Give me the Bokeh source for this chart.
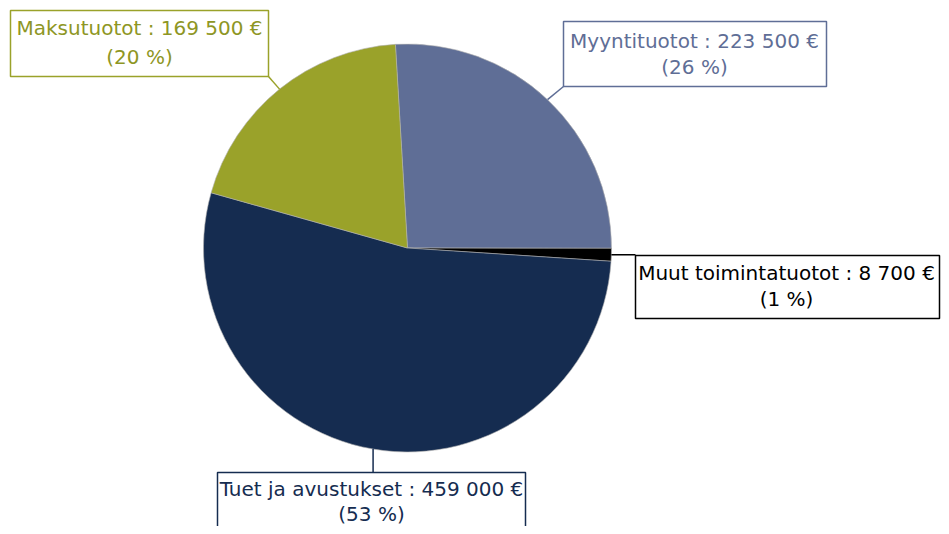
import math
from bokeh.plotting import figure
from bokeh.models import Range1d
from bokeh.core.properties import value
from bokeh.embed import file_html
from bokeh.resources import INLINE

# ---- data ----
categories = ["Myyntituotot", "Muut toimintatuotot", "Tuet ja avustukset", "Maksutuotot"]
amounts = [223500, 8700, 459000, 169500]

# ---- styles ----
colors = ["#5F6E96", "#000000", "#152C50", "#9AA22A"]
text_colors = ["#5F6E96", "#000000", "#152C50", "#8E9624"]

# ---- layout (image pixel coordinates, y downward) ----
W, H = 941, 526
cx, cy, R = 407, 247.5, 204
start_offset_deg = -3.4  # clockwise from 12 o'clock
box_left = [563, 635, 217, 10]
box_right = [826, 939, 525, 268]
box_top = [21, 255, 472, 10]
box_bottom = [86, 318, 545, 76]
text_x = [694, 786, 371, 139]
text_y1 = [40, 272, 488, 27]
text_y2 = [66, 298, 513, 56]

TOP = 534


def Y(py):
    return TOP - py


p = figure(width=W, height=H, output_backend="svg", toolbar_location=None,
           x_range=Range1d(0, W), y_range=Range1d(TOP - H, TOP),
           min_border=0, outline_line_color=None)
p.axis.visible = False
p.grid.visible = False
p.background_fill_color = "white"
p.border_fill_color = "white"

total = sum(amounts)
cum = start_offset_deg
starts, ends, mids = [], [], []
for a in amounts:
    span = a / total * 360.0
    s_cw, e_cw = cum, cum + span
    cum = e_cw
    starts.append(math.radians(90 - e_cw))
    ends.append(math.radians(90 - s_cw))
    mids.append((s_cw + e_cw) / 2)

p.wedge(x=[cx] * 4, y=[Y(cy)] * 4, radius=R, start_angle=starts, end_angle=ends,
        direction="anticlock", fill_color=colors, line_color="#B0B0B0", line_width=0.6)

# leader lines
anchors = [(box_left[0], box_bottom[0]), None, None, (box_right[3], box_bottom[3])]
for i, m in enumerate(mids):
    sx = cx + R * math.sin(math.radians(m))
    sy = cy - R * math.cos(math.radians(m))
    if i == 1:
        ex, ey = box_left[1], sy
    elif i == 2:
        ex, ey = sx, box_top[2]
    else:
        ex, ey = anchors[i]
    p.line([sx, ex], [Y(sy), Y(ey)], line_color=colors[i], line_width=1.5)

# label boxes
p.quad(left=box_left, right=box_right, top=[Y(t) for t in box_top],
       bottom=[Y(b) for b in box_bottom], fill_color="white",
       line_color=colors, line_width=1.5)

line1, line2 = [], []
for c, a in zip(categories, amounts):
    amt = f"{a:,}".replace(",", " ")
    line1.append(f"{c} : {amt} €")
    line2.append(f"({round(a / total * 100)} %)")

p.text(x=text_x, y=[Y(v) for v in text_y1], text=line1, text_color=text_colors,
       text_align="center", text_baseline="middle",
       text_font=value("DejaVu Sans"), text_font_size="20px")
p.text(x=text_x, y=[Y(v) for v in text_y2], text=line2, text_color=text_colors,
       text_align="center", text_baseline="middle",
       text_font=value("DejaVu Sans"), text_font_size="20px")

open("out.html", "w").write(file_html(p, INLINE))
